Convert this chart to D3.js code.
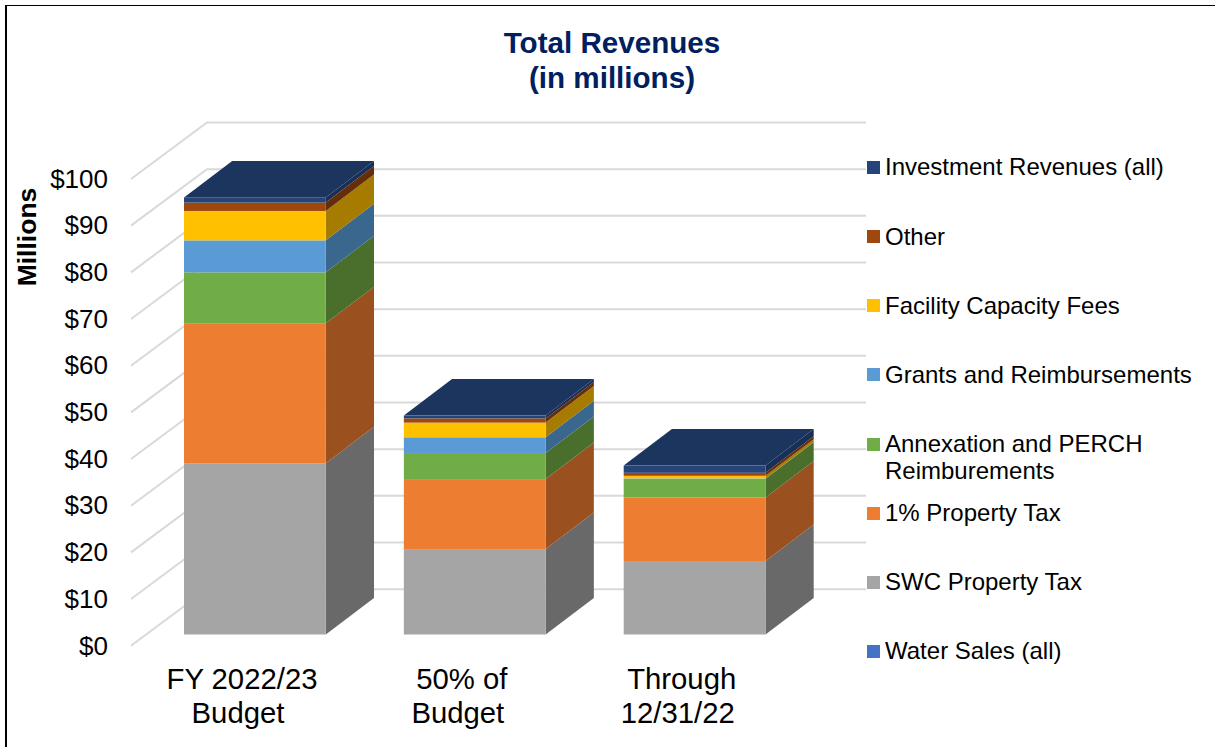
<!DOCTYPE html>
<html><head><meta charset="utf-8">
<script src="https://cdn.jsdelivr.net/npm/d3@7/dist/d3.min.js"></script>
<style>html,body{margin:0;padding:0;background:#fff}svg{display:block}text{font-family:"Liberation Sans",Arial,sans-serif}</style>
</head><body><svg id="c" width="1215" height="747"></svg>
<script>
const categories=[["FY 2022/23","Budget"],["50% of","Budget"],["Through","12/31/22"]];
const seriesNames=["Water Sales (all)","SWC Property Tax","1% Property Tax","Annexation and PERCH Reimburements","Grants and Reimbursements","Facility Capacity Fees","Other","Investment Revenues (all)"];
const waterSales=[0,0,0];
const swcTax=[36.7,18.3,15.75];
const onePctTax=[30,15,13.6];
const annexation=[10.9,5.6,4.0];
const grants=[6.85,3.35,0.1];
const capacityFees=[6.3,3.15,0.55];
const other=[1.8,0.9,0.65];
const investment=[1.1,0.6,1.55];
const seriesValues=[waterSales,swcTax,onePctTax,annexation,grants,capacityFees,other,investment];
const frontColors=["#4472C4","#A5A5A5","#ED7D31","#70AD47","#5B9BD5","#FFC000","#9E480E","#264478"];
const sideColors=["#2A4A80","#696969","#9A511F","#4A6F2D","#3A678D","#A67C00","#652E09","#1A2F55"];
const topColor="#1C355E";
const yTicks=d3.range(0,101,10);
const legendOrder=[7,6,5,4,3,2,1,0];
const svg=d3.select("#c");
const dx=48.2,dy=-36.5;
const y=d3.scaleLinear().domain([0,100]).range([634.5,167.8]);
const x=d3.scaleBand().domain([0,1,2]).range([184,765.5]).paddingInner(0.355).paddingOuter(0);
const bw=x.bandwidth();
// frame
svg.append("rect").attr("x",6).attr("y",5.5).attr("width",1300).attr("height",800).attr("fill","#fff").attr("stroke","#000").attr("stroke-width",1);
svg.append("rect").attr("x",5).attr("y",5).attr("width",2).attr("height",742).attr("fill","#000");
// grid
const grid=svg.append("g").attr("fill","none").attr("stroke","#D9D9D9").attr("stroke-width",2);
yTicks.forEach(t=>{
  const yb=y(t)-45.3, yf=y(t)+11.2;
  grid.append("path").attr("d",d3.line()([[131,yf],[207,yb],[866,yb]]));
});
// bars
const stack=d3.stack().keys(d3.range(8)).value((d,k)=>seriesValues[k][d])(d3.range(3));
const labelShift=[4,0];
categories.forEach((c,i)=>{
  const g=svg.append("g");
  const x0=x(i);
  stack.forEach((s,k)=>{
    const a=s[i][0],b=s[i][1];
    if(b-a<=0) return;
    g.append("path").attr("fill",sideColors[k]).attr("d",d3.line()([[x0+bw,y(a)],[x0+bw+dx,y(a)+dy],[x0+bw+dx,y(b)+dy],[x0+bw,y(b)]]));
    g.append("rect").attr("x",x0).attr("y",y(b)).attr("width",bw).attr("height",y(a)-y(b)).attr("fill",frontColors[k]);
  });
  const t=y(stack[7][i][1]);
  g.append("path").attr("fill",topColor).attr("d",d3.line()([[x0,t],[x0+dx,t+dy],[x0+bw+dx,t+dy],[x0+bw,t]]));
  const lab=svg.append("text").attr("text-anchor","middle").attr("font-size",29.3).attr("fill","#000");
  c.forEach((l,j)=>lab.append("tspan").attr("x",x0+54+labelShift[j]).attr("y",689+j*34).text(l));
});
// y tick labels
yTicks.forEach(t=>{
  svg.append("text").attr("x",108).attr("y",y(t)+20).attr("text-anchor","end").attr("font-size",26).attr("fill","#000").text("$"+t);
});
svg.append("text").attr("transform","translate(36,237) rotate(-90)").attr("text-anchor","middle").attr("font-size",26.5).attr("font-weight","bold").text("Millions");
// title
svg.append("text").attr("x",612).attr("y",53).attr("text-anchor","middle").attr("font-size",29.6).attr("font-weight","bold").attr("fill","#002060").text("Total Revenues");
svg.append("text").attr("x",612).attr("y",88).attr("text-anchor","middle").attr("font-size",29.6).attr("font-weight","bold").attr("fill","#002060").text("(in millions)");
// legend
const legY=[175,245,314,383,452,521,590,659];
const legSw=[161,230,299,368,438,507,576,645];
legendOrder.forEach((k,i)=>{
  svg.append("rect").attr("x",867).attr("y",legSw[i]).attr("width",13).attr("height",13).attr("fill",frontColors[k]);
  const name=seriesNames[k];
  const t=svg.append("text").attr("font-size",24).attr("fill","#000");
  if(k===3){
    t.append("tspan").attr("x",885).attr("y",legY[i]).text("Annexation and PERCH");
    t.append("tspan").attr("x",885).attr("y",legY[i]+27).text("Reimburements");
  } else t.attr("x",885).attr("y",legY[i]).text(name);
});
</script></body></html>
